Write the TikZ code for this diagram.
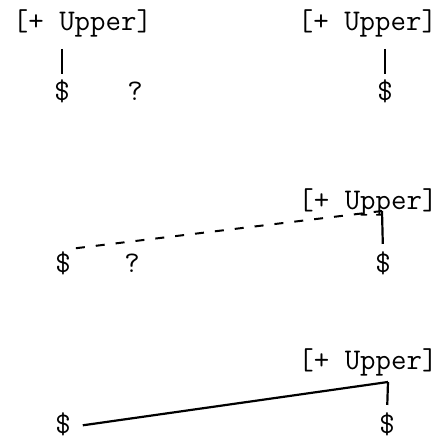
\documentclass[tikz,border=0pt]{standalone}
\begin{document}
\begin{tikzpicture}[x=10pt, y=10pt, every node/.style={font=\fontsize{30}{36}\selectfont\ttfamily, inner sep=0pt, anchor=base}]
		
		\useasboundingbox (0,0) rectangle (44.5,44.3);
		
		% oben: zwei getrennte Merkmale
		\node (u1l) at (8.25,41.2) {[+ Upper]};
		\node (u1r) at (36.75,41.2) {[+ Upper]};
		\node (d1l) at (6.2,34.2) {\$};
		\node (q1) at (13.5,34.2) {?};
		\node (d1r) at (38.5,34.2) {\$};
		\draw[line width=2.2pt, shorten <=11pt, shorten >=6pt] (d1l.north |- u1l.south) -- (d1l.north);
		\draw[line width=2.2pt, shorten <=11pt, shorten >=6pt] (d1r.north |- u1r.south) -- (d1r.north);
		
		% Mitte: gestrichelte Verbindung
		\node (u2) at (36.8,23.3) {[+ Upper]};
		\node (d2l) at (6.3,17.0) {\$};
		\node (q2) at (13.2,17.0) {?};
		\node (d2r) at (38.3,17.0) {\$};
		\coordinate (t2) at (38.2,23.2);
		\draw[line width=2pt, dash pattern=on 9pt off 11pt, shorten <=5pt] (d2l.east) ++(0,1.5) -- (t2);
		\draw[line width=2.2pt, shorten >=8pt] (t2) -- (d2r.north);
		
		% unten: durchgezogene Verbindung
		\node (u3) at (36.8,7.3) {[+ Upper]};
		\node (d3l) at (6.3,0.9) {\$};
		\node (d3r) at (38.7,0.9) {\$};
		\coordinate (t3) at (38.8,6.1);
		\draw[line width=2.2pt, shorten <=12pt] (d3l.east |- 0,1.6) -- (t3);
		\draw[line width=2.2pt, shorten >=8pt] (t3) -- (d3r.north);
		
	\end{tikzpicture}
\end{document}
